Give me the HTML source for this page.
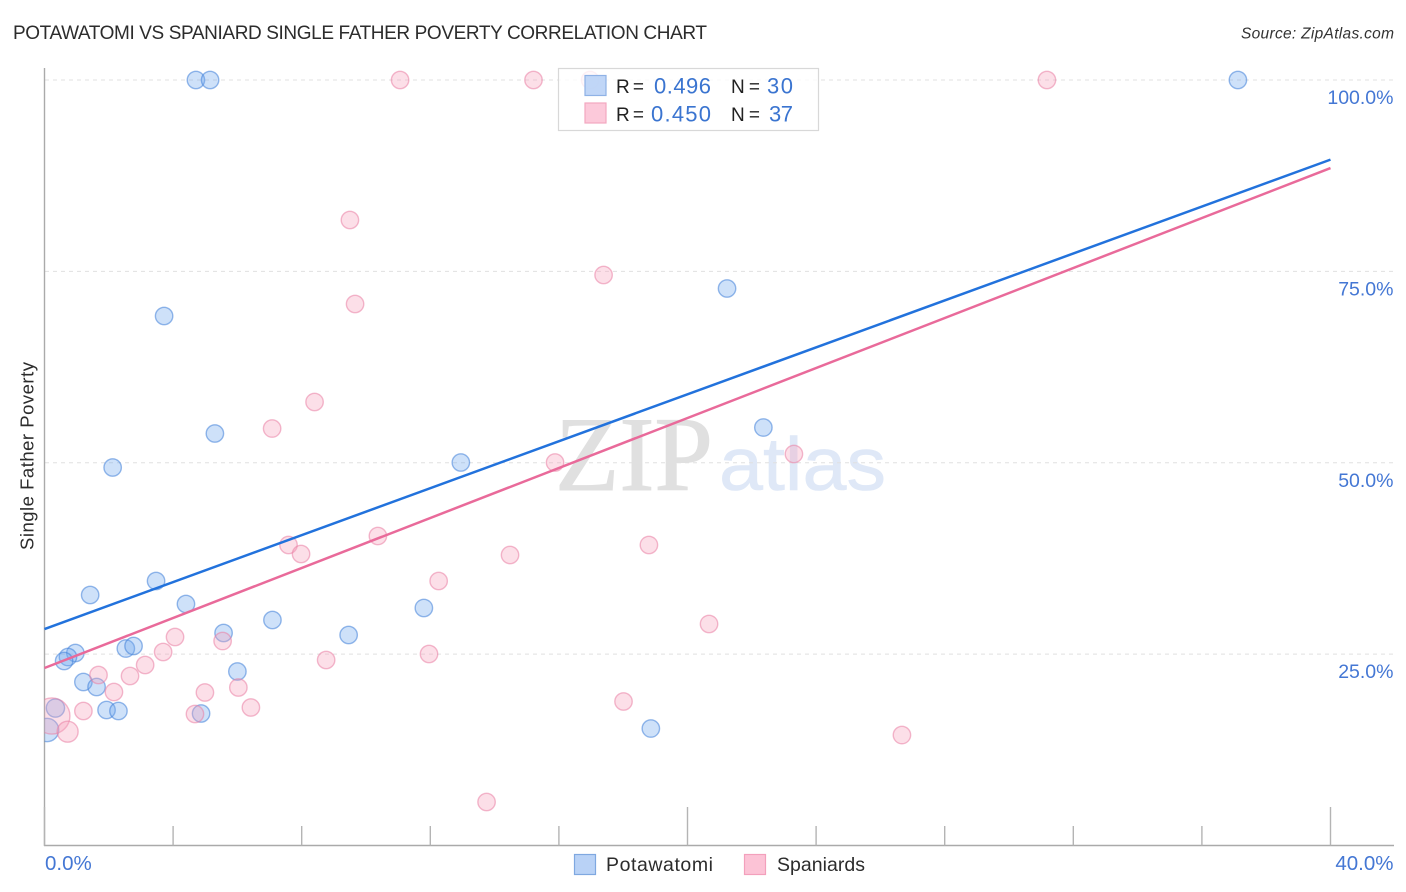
<!DOCTYPE html>
<html lang="en">
<head>
<meta charset="utf-8">
<title>Potawatomi vs Spaniard Single Father Poverty Correlation Chart</title>
<style>
html,body{margin:0;padding:0;background:#fff;width:1406px;height:892px;overflow:hidden}
svg{display:block}
text{font-family:"Liberation Sans",sans-serif}
</style>
</head>
<body>
<svg id="chart" xmlns="http://www.w3.org/2000/svg" width="1406" height="892" viewBox="0 0 1406 892">
  <defs>
    <clipPath id="plot-clip"><rect x="44.5" y="60" width="1350" height="786"/></clipPath>
  </defs>
  <rect x="0" y="0" width="1406" height="892" fill="#fff"/>
  <text x="13" y="39" font-size="19" fill="#2c2c2c" textLength="694" lengthAdjust="spacing">POTAWATOMI VS SPANIARD SINGLE FATHER POVERTY CORRELATION CHART</text>
  <text x="1241" y="38.5" font-size="15.5" font-style="italic" fill="#333" textLength="153" lengthAdjust="spacing">Source: ZipAtlas.com</text>

  <g>
    <text x="555" y="490" font-size="106" fill="#e0e0e0" stroke="#e0e0e0" stroke-width="1" textLength="158" lengthAdjust="spacingAndGlyphs" style="font-family:'Liberation Serif',serif">ZIP</text>
    <text x="719" y="490" font-size="75" fill="#dfe8f7" stroke="#dfe8f7" stroke-width="0.6" textLength="167" lengthAdjust="spacingAndGlyphs">atlas</text>
  </g>

  <g id="grid"></g>
  <g id="axes"></g>
  <g id="marks-blue" clip-path="url(#plot-clip)"></g>
  <g id="marks-pink" clip-path="url(#plot-clip)"></g>
  <g id="trends"></g>
  <g id="labels"></g>

  <text transform="translate(33.5,456) rotate(-90)" text-anchor="middle" font-size="18.5" fill="#2c2c2c" textLength="188" lengthAdjust="spacing">Single Father Poverty</text>

  <g>
    <rect x="558.5" y="68.5" width="260" height="62" fill="#fff" fill-opacity="0.8" stroke="#d8d8d8" stroke-width="1.2"/>
    <rect x="585" y="75.5" width="21" height="20" fill="#b9d2f6" fill-opacity="0.9" stroke="#8fb2e6" stroke-width="1.2"/>
    <rect x="585" y="103" width="21" height="20" fill="#fcc9da" stroke="#f3a8c0" stroke-width="1.2"/>
    <text x="616" y="93" font-size="19" fill="#222" textLength="28" lengthAdjust="spacing">R =</text>
    <text x="654" y="93.5" font-size="22" fill="#3a74d0" textLength="57" lengthAdjust="spacing">0.496</text>
    <text x="731" y="93" font-size="19" fill="#222" textLength="29" lengthAdjust="spacing">N =</text>
    <text x="767" y="93.5" font-size="22" fill="#3a74d0" textLength="26" lengthAdjust="spacing">30</text>
    <text x="616" y="121" font-size="19" fill="#222" textLength="28" lengthAdjust="spacing">R =</text>
    <text x="651" y="121.5" font-size="22" fill="#3a74d0" textLength="60" lengthAdjust="spacing">0.450</text>
    <text x="731" y="121" font-size="19" fill="#222" textLength="29" lengthAdjust="spacing">N =</text>
    <text x="769" y="121.5" font-size="22" fill="#3a74d0" textLength="24" lengthAdjust="spacing">37</text>
  </g>

  <g>
    <g>
      <rect x="574.5" y="854.5" width="21" height="20" fill="#b9d2f6" stroke="#7fa8e0" stroke-width="1.2"/>
      <text x="606" y="871" font-size="19.5" fill="#2c2c2c" textLength="107" lengthAdjust="spacing">Potawatomi</text>
    </g>
    <g>
      <rect x="744.5" y="854.5" width="21" height="20" fill="#fcc3d6" stroke="#f3a0bc" stroke-width="1.2"/>
      <text x="777" y="871" font-size="19.5" fill="#2c2c2c" textLength="88" lengthAdjust="spacing">Spaniards</text>
    </g>
  </g>
</svg>
<script>
const xTickValues = [0, 4, 8, 12, 16, 20, 24, 28, 32, 36, 40];
const xMajorTicks = [0, 20, 40];
const xEdgeLabels = ["0.0%", "40.0%"];
const yTickValues = [25, 50, 75, 100];
const yTickLabels = ["25.0%", "50.0%", "75.0%", "100.0%"];

const potawatomiX = [4.71, 5.15, 37.12, 3.72, 21.23, 5.30, 22.36, 2.12, 12.95, 3.47, 1.42, 4.40, 11.80, 7.09, 9.46, 5.57, 2.53, 2.77, 0.96, 0.73, 0.61, 1.21, 1.62, 6.00, 0.34, 1.93, 2.30, 4.87, 18.86, 0.08];
const potawatomiY = [100, 100, 100, 69.17, 72.76, 53.82, 54.60, 49.38, 50.03, 34.55, 32.72, 31.55, 31.03, 29.46, 27.50, 27.76, 25.73, 26.06, 25.15, 24.62, 24.10, 21.36, 20.71, 22.73, 17.96, 17.70, 17.57, 17.24, 15.28, 15.09];
const potawatomiSize = [1, 1, 1, 1, 1, 1, 1, 1, 1, 1, 1, 1, 1, 1, 1, 1, 1, 1, 1, 1, 1, 1, 1, 1, 1.1, 1, 1, 1, 1, 1.8];

const spaniardsX = [11.06, 15.21, 16.97, 31.18, 9.50, 17.39, 9.66, 8.40, 7.08, 15.88, 23.31, 10.37, 7.59, 7.98, 18.80, 14.48, 12.26, 20.67, 4.06, 5.54, 3.69, 11.96, 8.76, 3.13, 1.68, 2.66, 2.16, 4.99, 6.03, 6.42, 4.68, 18.01, 1.21, 26.67, 13.75, 0.23, 0.72];
const spaniardsY = [100, 100, 100, 100, 81.71, 74.53, 70.74, 57.94, 54.47, 50.03, 51.14, 40.43, 39.26, 38.08, 39.26, 37.95, 34.55, 28.94, 27.24, 26.71, 25.28, 25.02, 24.23, 23.58, 22.27, 22.14, 20.05, 19.99, 20.64, 18.03, 17.18, 18.81, 17.57, 14.43, 5.68, 16.92, 14.87];
const spaniardsSize = [1, 1, 1, 1, 1, 1, 1, 1, 1, 1, 1, 1, 1, 1, 1, 1, 1, 1, 1, 1, 1, 1, 1, 1, 1, 1, 1, 1, 1, 1, 1, 1, 1, 1, 1, 4.3, 1.45];

const potawatomiTrend = [28.28, 89.6];
const spaniardsTrend = [23.19, 88.5];
const trendDomain = [0, 40];

const NS = "http://www.w3.org/2000/svg";
function xScale(v) { return 44.5 + v * 32.15; }
function yScale(v) { return 845.5 - v * 7.655; }
function rScale(s) { return 8.7 * Math.sqrt(s); }
function make(tag, parent, attrs) {
  const el = document.createElementNS(NS, tag);
  for (const k in attrs) el.setAttribute(k, attrs[k]);
  parent.appendChild(el);
  return el;
}

const grid = document.getElementById("grid");
yTickValues.forEach(function (v) {
  const line = make("line", grid, { x1: 45, x2: 1394, y1: yScale(v), y2: yScale(v), stroke: "#e0e0e0", "stroke-width": 1, "stroke-dasharray": "4 4" });
  
  
});

const axes = document.getElementById("axes");
const yAxisLine = make("line", axes, { x1: 44.5, x2: 44.5, y1: 68, y2: 846, stroke: "#aaa", "stroke-width": 1.4 });


const xAxisLine = make("line", axes, { x1: 44, x2: 1394, y1: 845.5, y2: 845.5, stroke: "#aaa", "stroke-width": 1.4 });


xTickValues.forEach(function (v) {
  const top = xMajorTicks.indexOf(v) >= 0 ? 807 : 826;
  const tick = make("line", axes, { x1: xScale(v), x2: xScale(v), y1: top, y2: 845.5, stroke: "#b4b4b4", "stroke-width": 1.4 });
  
  
});

function drawPoints(groupId, xs, ys, sizes, fill, stroke, name) {
  const group = document.getElementById(groupId);
  xs.forEach(function (x, i) {
    const c = make("circle", group, { cx: xScale(x), cy: yScale(ys[i]), r: rScale(sizes[i]), fill: fill, "fill-opacity": 0.34, stroke: stroke, "stroke-opacity": 0.55, "stroke-width": 1.4 });
    
    
  });
}
drawPoints("marks-blue", potawatomiX, potawatomiY, potawatomiSize, "#6ea6ee", "#3f80d8", "potawatomi-point");
drawPoints("marks-pink", spaniardsX, spaniardsY, spaniardsSize, "#f6a0bd", "#ea80a4", "spaniards-point");

const trends = document.getElementById("trends");
const blueTrend = make("line", trends, { x1: xScale(trendDomain[0]), y1: yScale(potawatomiTrend[0]), x2: xScale(trendDomain[1]), y2: yScale(potawatomiTrend[1]), stroke: "#2272dc", "stroke-width": 2.5 });


const pinkTrend = make("line", trends, { x1: xScale(trendDomain[0]), y1: yScale(spaniardsTrend[0]), x2: xScale(trendDomain[1]), y2: yScale(spaniardsTrend[1]), stroke: "#e96a9a", "stroke-width": 2.5 });



const labels = document.getElementById("labels");
yTickValues.forEach(function (v, i) {
  const t = make("text", labels, { x: 1393.5, y: yScale(v) + 24, "text-anchor": "end", "font-size": 19.5, fill: "#4477d4" });
  t.textContent = yTickLabels[i];
  
  
});
const xLabelLeft = make("text", labels, { x: 45, y: 870, "font-size": 20.5, fill: "#4477d4" });
xLabelLeft.textContent = xEdgeLabels[0];


const xLabelRight = make("text", labels, { x: 1393.5, y: 870, "text-anchor": "end", "font-size": 20.5, fill: "#4477d4" });
xLabelRight.textContent = xEdgeLabels[1];


</script>
</body>
</html>
